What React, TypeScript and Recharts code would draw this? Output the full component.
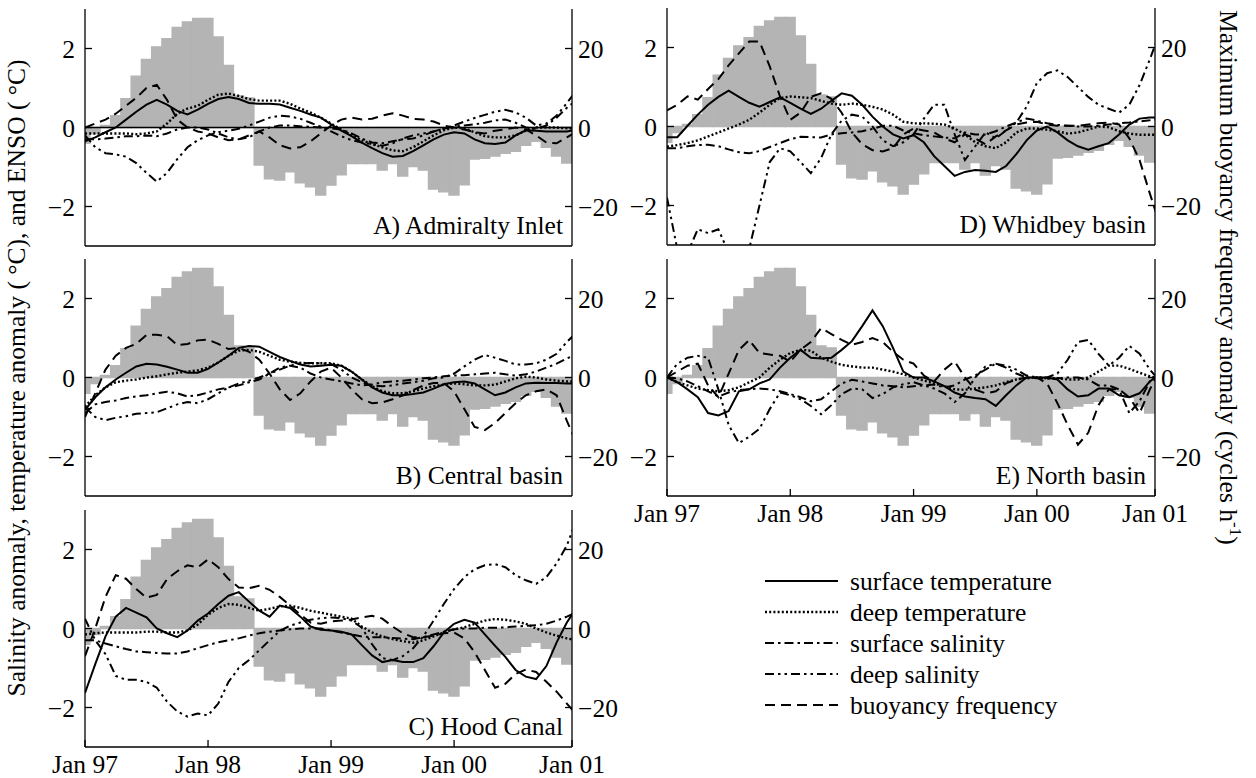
import React from 'react';
import { ComposedChart, Bar, Line, XAxis, YAxis, ReferenceLine } from 'recharts';

// months since Jan 97 (48 = Jan 01)
const MONTHS = [
  0, 1, 2, 3, 4, 5, 6, 7, 8, 9, 10, 11,
  12, 13, 14, 15, 16, 17, 18, 19, 20, 21, 22, 23,
  24, 25, 26, 27, 28, 29, 30, 31, 32, 33, 34, 35,
  36, 37, 38, 39, 40, 41, 42, 43, 44, 45, 46, 47,
  48,
];
const X_TICKS = [0, 12, 24, 36, 47.5];
const X_TICK_LABELS = ['Jan 97', 'Jan 98', 'Jan 99', 'Jan 00', 'Jan 01'];
const LEFT_TICKS = [-2, 0, 2];
const RIGHT_TICKS = [-20, 0, 20];

// ENSO index (°C), same in every panel
const ENSO = [
  -0.4, -0.15, 0.05, 0.3, 0.73, 1.3, 1.72, 2.04, 2.25, 2.53, 2.67, 2.76,
  2.76, 2.29, 1.57, 0.8, 0.75, -0.95, -1.3, -1.33, -1.12, -1.4, -1.5, -1.71,
  -1.46, -1.2, -0.91, -0.91, -0.91, -1.08, -0.91, -1.23, -0.99, -1.08, -1.56, -1.63,
  -1.71, -1.45, -0.8, -0.78, -0.72, -0.65, -0.6, -0.45, -0.35, -0.5, -0.72, -0.9,
];

// A) Admiralty Inlet
const A_SURF_T = [
  -0.35, -0.25, -0.12, 0.0, 0.2, 0.4, 0.58, 0.7, 0.58, 0.42, 0.33, 0.45,
  0.6, 0.72, 0.77, 0.72, 0.62, 0.6, 0.6, 0.58, 0.5, 0.42, 0.33, 0.25,
  0.08, -0.08, -0.22, -0.38, -0.52, -0.65, -0.74, -0.72, -0.6, -0.45, -0.3, -0.18,
  -0.12, -0.15, -0.3, -0.4, -0.42, -0.38, -0.2, -0.07, -0.08, -0.1, -0.1, -0.1,
  -0.05,
];
const A_DEEP_T = [
  -0.15, -0.15, -0.15, -0.15, -0.15, -0.17, -0.15, -0.1, 0.1, 0.35, 0.48, 0.55,
  0.7, 0.83, 0.86, 0.8, 0.72, 0.68, 0.68, 0.68, 0.6, 0.48, 0.38, 0.25,
  0.1, -0.05, -0.2, -0.32, -0.42, -0.5, -0.58, -0.6, -0.5, -0.35, -0.2, -0.07,
  0.0, -0.02, -0.12, -0.22, -0.25, -0.25, -0.2, -0.08, 0.0, 0.0, 0.0, -0.02,
  -0.02,
];
const A_SURF_S = [
  -0.3, -0.3, -0.28, -0.25, -0.22, -0.22, -0.2, -0.22, -0.15, -0.05, 0.0, 0.0,
  -0.05, -0.15, -0.25, -0.3, -0.25, -0.1, 0.0, 0.05, 0.05, 0.03, 0.02, 0.0,
  -0.02, -0.05, -0.15, -0.28, -0.38, -0.4, -0.35, -0.3, -0.28, -0.2, -0.1, -0.03,
  0.02, 0.05, 0.08, 0.12, 0.18, 0.2, 0.12, 0.0, -0.03, 0.05, 0.25, 0.5,
  0.7,
];
const A_DEEP_S = [
  -0.2, -0.5, -0.65, -0.68, -0.74, -0.9, -1.15, -1.37, -1.15, -0.8, -0.5, -0.32,
  -0.2, -0.12, -0.08, -0.03, 0.05, 0.15, 0.25, 0.3, 0.28, 0.22, 0.12, 0.02,
  -0.1, -0.22, -0.32, -0.38, -0.42, -0.46, -0.4, -0.28, -0.2, -0.15, -0.1, -0.03,
  0.05, 0.15, 0.24, 0.32, 0.4, 0.45, 0.38, 0.25, 0.05, 0.1, 0.3, 0.62,
  0.95,
];
const A_BUOY = [
  0, 1, 2, 3.5, 5.5, 7.5, 10, 10.8, 7, 2, 0, -1,
  -1.5, -2.5, -3.2, -3, -2, -1, -2.5, -4.5, -5.3, -5, -3.5, -1.5,
  0.5, 2, 2.5, 2, 2.2, 3, 3.6, 3, 2.2, 2, 1.5, 0.5,
  0, -0.5, -1.2, -1.5, -0.8, -0.5, 0, -0.5, -2, -3.8, -4, -2.5,
  -1,
];

// B) Central basin
const B_SURF_T = [
  -0.82, -0.5, -0.25, -0.05, 0.12, 0.28, 0.35, 0.33, 0.27, 0.2, 0.12, 0.12,
  0.22, 0.38, 0.55, 0.75, 0.8, 0.78, 0.65, 0.52, 0.42, 0.33, 0.28, 0.3,
  0.32, 0.3, 0.15, -0.05, -0.25, -0.38, -0.45, -0.45, -0.42, -0.38, -0.28, -0.17,
  -0.12, -0.1, -0.15, -0.3, -0.45, -0.38, -0.25, -0.15, -0.13, -0.14, -0.14, -0.15,
  -0.15,
];
const B_DEEP_T = [
  -0.74, -0.45, -0.25, -0.12, -0.08, -0.05, 0.0, 0.03, 0.08, 0.12, 0.15, 0.18,
  0.25, 0.38, 0.55, 0.68, 0.7, 0.65, 0.55, 0.45, 0.4, 0.37, 0.36, 0.36,
  0.36, 0.3, 0.15, -0.05, -0.22, -0.35, -0.4, -0.4, -0.35, -0.28, -0.22, -0.18,
  -0.15, -0.17, -0.2, -0.2, -0.18, -0.1, -0.02, 0.02, 0.0, -0.05, -0.08, -0.1,
  -0.1,
];
const B_SURF_S = [
  -0.9, -0.68, -0.62, -0.58, -0.52, -0.48, -0.45, -0.4, -0.36, -0.4, -0.48, -0.45,
  -0.38, -0.3, -0.25, -0.2, -0.12, -0.05, 0.1, 0.25, 0.3, 0.25, 0.1, 0.0,
  -0.05, -0.1, -0.15, -0.2, -0.18, -0.12, -0.1, -0.08, -0.05, -0.02, 0.0, 0.03,
  0.05, 0.06, 0.08, 0.1, 0.12, 0.08, 0.05, 0.08, 0.15, 0.25, 0.35, 0.48,
  0.6,
];
const B_DEEP_S = [
  -0.75, -1.0, -1.08, -1.02, -0.98, -0.92, -0.9, -0.88, -0.78, -0.68, -0.62, -0.65,
  -0.55, -0.4, -0.25, -0.15, -0.08, 0.0, 0.1, 0.2, 0.3, 0.36, 0.37, 0.36,
  0.34, 0.2, 0.0, -0.12, -0.2, -0.22, -0.2, -0.15, -0.12, -0.08, -0.02, 0.0,
  0.1, 0.28, 0.45, 0.57, 0.5, 0.42, 0.33, 0.33, 0.36, 0.45, 0.6, 0.9,
  1.15,
];
const B_BUOY = [
  -10, -4, 2, 5.5, 7.5, 8.5, 10.8, 10.8, 10.5, 8.2, 8.5, 9.4,
  9.6, 8.5, 7.2, 7.5, 6.5, 4.5, 1, -3, -5.7, -4, -1, 1.5,
  2.5, 0, -3, -5.5, -6.5, -6.3, -5.5, -4.5, -3.2, -2, -1.4, -1.4,
  -3.5, -8, -12.5, -13.3, -11.5, -9, -6.5, -4.5, -3.5, -3, -4.5, -11,
  -17,
];

// C) Hood Canal
const C_SURF_T = [
  -1.63, -0.9, -0.2, 0.3, 0.52, 0.4, 0.28, 0.0, -0.12, -0.22, -0.05, 0.2,
  0.38, 0.62, 0.83, 0.92, 0.68, 0.45, 0.3, 0.58, 0.52, 0.3, 0.05, -0.03,
  -0.05, -0.08, -0.15, -0.42, -0.68, -0.85, -0.8, -0.85, -0.85, -0.75, -0.45, -0.1,
  0.12, 0.22, 0.15, -0.15, -0.44, -0.72, -1.05, -1.22, -1.28, -0.95, -0.35, 0.15,
  0.55,
];
const C_DEEP_T = [
  -0.15, -0.12, -0.1, -0.1, -0.1, -0.1, -0.08, -0.08, -0.1, -0.1, -0.05, 0.1,
  0.35, 0.52, 0.62, 0.6, 0.52, 0.45, 0.5, 0.56, 0.58, 0.52, 0.45, 0.4,
  0.35, 0.3, 0.25, 0.05, -0.1, -0.2, -0.27, -0.32, -0.36, -0.3, -0.2, -0.1,
  -0.02, 0.03, 0.12, 0.2, 0.24, 0.22, 0.18, 0.12, 0.0, -0.1, -0.18, -0.25,
  -0.3,
];
const C_SURF_S = [
  -0.3, -0.3, -0.38, -0.45, -0.52, -0.58, -0.6, -0.62, -0.63, -0.63, -0.58, -0.5,
  -0.42, -0.35, -0.3, -0.25, -0.18, -0.12, -0.08, -0.05, -0.02, 0.0, 0.0, 0.0,
  -0.05, -0.1, -0.15, -0.2, -0.22, -0.22, -0.24, -0.26, -0.27, -0.22, -0.15, -0.08,
  -0.02, 0.0, 0.0, 0.02, 0.02, 0.03, 0.05, 0.07, 0.08, 0.12, 0.2, 0.3,
  0.42,
];
const C_DEEP_S = [
  0.25, -0.3, -0.65, -1.2, -1.3, -1.3, -1.35, -1.5, -1.85, -2.1, -2.23, -2.15,
  -2.2, -1.9, -1.35, -1.0, -0.8, -0.55, -0.3, -0.06, 0.07, 0.15, 0.22, 0.26,
  0.28, 0.26, 0.2, 0.02, -0.4, -0.75, -0.8, -0.7, -0.5, -0.2, 0.2, 0.62,
  1.0, 1.3, 1.5, 1.6, 1.63, 1.55, 1.35, 1.22, 1.13, 1.3, 1.65, 2.1,
  2.8,
];
const C_BUOY = [
  -7, 0, 8, 13.5, 12.6, 10, 7.8, 8.5, 12.5, 14.5, 16, 15.5,
  17.5, 15.5, 12.5, 10.4, 10.2, 10.8, 9.8, 8, 5.8, 3.5, 1.5, 1.2,
  1.8, 2, 2.3, 2.8, 3.2, 2.5, 0.5, -1.2, -2.2, -2.2, -1.8, -1.2,
  -1, -2.5, -6, -10.5, -15, -14, -11.5, -10.4, -11, -13.5, -16, -19,
  -22,
];

// D) Whidbey basin
const D_SURF_T = [
  -0.27, -0.27, 0.02, 0.3, 0.55, 0.75, 0.91, 0.75, 0.6, 0.5, 0.62, 0.74,
  0.6, 0.45, 0.32, 0.45, 0.65, 0.84, 0.78, 0.55, 0.25, 0.0, -0.2, -0.3,
  -0.22, -0.4, -0.75, -1.0, -1.25, -1.15, -1.1, -1.12, -1.15, -1.0, -0.7, -0.35,
  -0.1, 0.0, -0.15, -0.35, -0.5, -0.59, -0.5, -0.42, -0.2, 0.05, 0.2, 0.23,
  0.23,
];
const D_DEEP_T = [
  -0.51, -0.47, -0.42, -0.35, -0.25, -0.15, -0.05, 0.05, 0.17, 0.35, 0.55, 0.72,
  0.76, 0.74, 0.72, 0.65, 0.58, 0.55, 0.58, 0.55, 0.5, 0.43, 0.3, 0.12,
  0.08, 0.08, 0.07, 0.05, -0.05, -0.2, -0.4, -0.5, -0.55, -0.4, -0.15, -0.05,
  -0.05, -0.08, -0.12, -0.18, -0.15, -0.08, 0.0, -0.02, -0.12, -0.18, -0.21, -0.21,
  -0.21,
];
const D_SURF_S = [
  -0.55, -0.55, -0.5, -0.47, -0.46, -0.5, -0.58, -0.65, -0.68, -0.62, -0.52, -0.42,
  -0.32, -0.26, -0.27, -0.28, -0.2, -0.17, -0.15, -0.12, -0.06, 0.02, 0.02, -0.1,
  -0.17, -0.22, -0.25, -0.28, -0.3, -0.15, -0.2, -0.2, -0.12, 0.0, 0.1, 0.2,
  0.15, 0.08, 0.04, 0.02, 0.0, 0.0, 0.02, 0.05, 0.08, 0.1, 0.13, 0.16,
  0.2,
];
const D_DEEP_S = [
  -1.8, -3.1, -3.2, -2.6, -2.7, -2.6, -3.2, -3.5, -3.1, -2.0, -0.9, -0.55,
  -0.63, -0.9, -1.18, -0.8, -0.2, 0.15, 0.3, 0.25, 0.0, -0.35, -0.5, -0.4,
  -0.2, 0.2, 0.55, 0.55, -0.2, -0.85, -0.5, -0.15, -0.3, -0.1, 0.1, 0.5,
  1.1, 1.35, 1.42, 1.25, 1.0, 0.75, 0.55, 0.45, 0.35, 0.55, 1.05, 1.7,
  2.4,
];
const D_BUOY = [
  4.1, 5.5, 7.6, 6.8, 9.5, 12, 15.5, 18.5, 21.5, 21.5, 15.2, 7.6,
  1.7, 3.5, 7.5, 8.4, 7, 3.5, -1.5, -4.5, -6, -6.3, -5.5, -2,
  -0.5, -1, -1.5, -3, -4, -2, -3, -4.5, -2.5, -1, 0.5, 1,
  1.2, 0.5, 0.2, 0.2, 0.2, 0.5, 0.8, 1, 0.5, -3, -8.5, -17,
  -25,
];

// E) North basin
const E_SURF_T = [
  0.0, -0.12, -0.3, -0.5, -0.9, -0.96, -0.85, -0.35, -0.3, -0.15, -0.05, 0.25,
  0.5, 0.7, 0.5, 0.48, 0.5, 0.7, 0.92, 1.3, 1.7, 1.3, 0.75, 0.15,
  0.0, 0.0, -0.1, -0.22, -0.38, -0.48, -0.52, -0.55, -0.72, -0.45, -0.2, 0.0,
  0.0, 0.0, -0.05, -0.3, -0.48, -0.45, -0.28, -0.28, -0.45, -0.5, -0.4, -0.1,
  0.1,
];
const E_DEEP_T = [
  0.0, -0.12, -0.2, -0.28, -0.32, -0.35, -0.32, -0.25, -0.12, 0.0, 0.25, 0.45,
  0.62, 0.7, 0.68, 0.5, 0.4, 0.32, 0.28, 0.25, 0.25, 0.2, 0.15, 0.08,
  0.0, -0.08, -0.15, -0.22, -0.3, -0.31, -0.28, -0.25, -0.2, -0.12, -0.05, -0.02,
  0.0, -0.02, -0.02, -0.05, -0.05, 0.0, 0.15, 0.3, 0.3, 0.22, 0.12, 0.03,
  -0.03,
];
const E_SURF_S = [
  0.0, -0.02, -0.1, -0.22, -0.35, -0.48, -0.38, -0.32, -0.3, -0.28, -0.3, -0.35,
  -0.42, -0.5, -0.6, -0.55, -0.35, -0.15, -0.06, -0.1, -0.15, -0.2, -0.22, -0.25,
  -0.22, -0.2, -0.18, -0.25, -0.2, -0.05, 0.05, 0.2, 0.35, 0.25, 0.1, 0.0,
  -0.02, -0.03, -0.02, 0.0, 0.0, -0.05, -0.2, -0.2, -0.3, -0.9, -0.6, -0.1,
  0.1,
];
const E_DEEP_S = [
  0.0, 0.35, 0.5, 0.55, 0.5, -0.3, -1.2, -1.66, -1.5, -1.3, -0.8, -0.38,
  -0.45, -0.55, -0.72, -0.93, -0.7, -0.42, -0.28, -0.3, -0.52, -0.42, -0.25, -0.17,
  -0.12, -0.2, -0.28, -0.4, -0.62, -0.4, 0.0, 0.28, 0.35, 0.3, 0.2, 0.05,
  0.0, 0.0, 0.1, 0.45, 0.9, 0.95, 0.6, 0.3, 0.5, 0.8, 0.6, 0.2,
  -0.1,
];
const E_BUOY = [
  0, 1.5, 3, 3.5, -2, -5, 1, 7, 9.5, 6.2, 5.8, 5.5,
  4, 7, 9, 12.5, 11, 9.5, 8.3, 9, 10, 9, 6.5, 4.5,
  3.5, 0.5, -1, 2, 4.1, 0, -3.1, -4, -3.5, -1.5, -0.5, 0,
  0, -1.5, -6.5, -12, -17, -14, -7, -3, -3, -5, -9, -3,
  2,
];

const FONT = '"Liberation Serif", "Times New Roman", serif';
const FONT_SIZE = 25.5;
const GRAY = '#b4b4b4';
const PLOT_H = 237;
const TICK_LEN = 7;

const SERIES = [
  { key: 'surfT', name: 'surface temperature', dash: undefined, width: 2, axis: 'l' },
  { key: 'deepT', name: 'deep temperature', dash: '2 2.2', width: 2.4, axis: 'l' },
  { key: 'surfS', name: 'surface salinity', dash: '9 4 2.5 4', width: 2, axis: 'l' },
  { key: 'deepS', name: 'deep salinity', dash: '9 4 2.5 4 2.5 4', width: 2, axis: 'l' },
  { key: 'buoy', name: 'buoyancy frequency', dash: '10 6', width: 2, axis: 'r' },
];

const PANELS = [
  { title: 'A) Admiralty Inlet', left: 85, top: 9, width: 487, zero: true, labels: false,
    data: { surfT: A_SURF_T, deepT: A_DEEP_T, surfS: A_SURF_S, deepS: A_DEEP_S, buoy: A_BUOY } },
  { title: 'B) Central basin', left: 85, top: 259, width: 487, zero: false, labels: false,
    data: { surfT: B_SURF_T, deepT: B_DEEP_T, surfS: B_SURF_S, deepS: B_DEEP_S, buoy: B_BUOY } },
  { title: 'C) Hood Canal', left: 85, top: 510, width: 487, zero: false, labels: true,
    data: { surfT: C_SURF_T, deepT: C_DEEP_T, surfS: C_SURF_S, deepS: C_DEEP_S, buoy: C_BUOY } },
  { title: 'D) Whidbey basin', left: 667, top: 8, width: 488, zero: false, labels: false,
    data: { surfT: D_SURF_T, deepT: D_DEEP_T, surfS: D_SURF_S, deepS: D_DEEP_S, buoy: D_BUOY } },
  { title: 'E) North basin', left: 667, top: 259, width: 488, zero: false, labels: true,
    data: { surfT: E_SURF_T, deepT: E_DEEP_T, surfS: E_SURF_S, deepS: E_DEEP_S, buoy: E_BUOY } },
];

const minus = (v: number) => (v < 0 ? '\u2212' + Math.abs(v) : String(v));
const tickFont = { fontSize: FONT_SIZE, fill: '#000', fontFamily: FONT };
const axisStroke = { stroke: '#000', strokeWidth: 1.3 };

function Panel({ p }: { p: any }) {
  const rows = MONTHS.map((m, i) => ({
    m,
    enso: i < ENSO.length ? ENSO[i] : null,
    surfT: p.data.surfT[i],
    deepT: p.data.deepT[i],
    surfS: p.data.surfS[i],
    deepS: p.data.deepS[i],
    buoy: p.data.buoy[i],
  }));

  return (
    <div style={{ position: 'absolute', left: p.left - 60, top: p.top - 10 }}>
      <ComposedChart
        width={p.width + 120}
        height={PLOT_H + 50}
        data={rows}
        margin={{ top: 10, right: 0, bottom: 0, left: 0 }}
        barCategoryGap={0}
        barGap={0}
      >
        <XAxis
          xAxisId="b"
          dataKey="m"
          type="number"
          domain={[0, 47.5]}
          allowDataOverflow
          ticks={X_TICKS}
          interval={0}
          tickFormatter={(v: number) => X_TICK_LABELS[X_TICKS.indexOf(v)]}
          tick={p.labels ? tickFont : false}
          tickSize={-TICK_LEN}
          tickMargin={15}
          height={40}
          axisLine={axisStroke}
          tickLine={axisStroke}
        />
        <XAxis
          xAxisId="t"
          orientation="top"
          dataKey="m"
          type="number"
          domain={[0, 47.5]}
          allowDataOverflow
          ticks={[12, 24, 36]}
          interval={0}
          tick={false}
          tickSize={-TICK_LEN}
          height={0}
          axisLine={axisStroke}
          tickLine={axisStroke}
        />
        <YAxis
          yAxisId="l"
          type="number"
          domain={[-3, 3]}
          allowDataOverflow
          ticks={LEFT_TICKS}
          interval={0}
          tickFormatter={minus}
          tick={tickFont}
          tickSize={-TICK_LEN}
          tickMargin={17}
          width={60}
          axisLine={axisStroke}
          tickLine={axisStroke}
        />
        <YAxis
          yAxisId="r"
          orientation="right"
          type="number"
          domain={[-30, 30]}
          allowDataOverflow
          ticks={RIGHT_TICKS}
          interval={0}
          tickFormatter={minus}
          tick={tickFont}
          tickSize={-TICK_LEN}
          tickMargin={13}
          width={60}
          axisLine={axisStroke}
          tickLine={axisStroke}
        />
        <Bar
          xAxisId="b"
          yAxisId="l"
          dataKey="enso"
          fill={GRAY}
          stroke={GRAY}
          strokeWidth={1.4}
          isAnimationActive={false}
        />
        {p.zero && <ReferenceLine xAxisId="b" yAxisId="l" y={0} stroke="#000" strokeWidth={1.5} />}
        {SERIES.map((s) => (
          <Line
            key={s.key}
            xAxisId="b"
            yAxisId={s.axis}
            dataKey={s.key}
            type="linear"
            stroke="#000"
            strokeWidth={s.width}
            strokeDasharray={s.dash}
            dot={false}
            activeDot={false}
            isAnimationActive={false}
          />
        ))}
      </ComposedChart>
    </div>
  );
}

export default function App() {
  return (
    <div style={{ position: 'relative', width: 1256, height: 778, background: '#fff', overflow: 'hidden', fontFamily: FONT }}>
      <style>{'body{margin:0}'}</style>
      {PANELS.map((p) => (
        <Panel key={p.title} p={p} />
      ))}
      <svg
        width={1256}
        height={778}
        style={{ position: 'absolute', left: 0, top: 0, pointerEvents: 'none' }}
        fontFamily={FONT}
        fontSize={FONT_SIZE}
      >
        <text transform="translate(25,378) rotate(-90)" textAnchor="middle" fill="#000">
          Salinity anomaly, temperature anomaly ( °C), and ENSO ( °C)
        </text>
        <text transform="translate(1220,10) rotate(90)" textAnchor="start" fill="#000">
          Maximum buoyancy frequency anomaly (cycles h
          <tspan dy={-10} fontSize={17}>-1</tspan>
          <tspan dy={10}>)</tspan>
        </text>
        {PANELS.map((p) => (
          <text key={p.title} x={p.left + p.width - 9} y={p.top + PLOT_H - 12} textAnchor="end" fill="#000">
            {p.title}
          </text>
        ))}
        {SERIES.map((s, i) => (
          <g key={s.key}>
            <line
              x1={765}
              x2={838}
              y1={581 + i * 31}
              y2={581 + i * 31}
              stroke="#000"
              strokeWidth={s.width}
              strokeDasharray={s.dash}
            />
            <text x={850} y={590 + i * 31} fill="#000">
              {s.name}
            </text>
          </g>
        ))}
      </svg>
    </div>
  );
}
